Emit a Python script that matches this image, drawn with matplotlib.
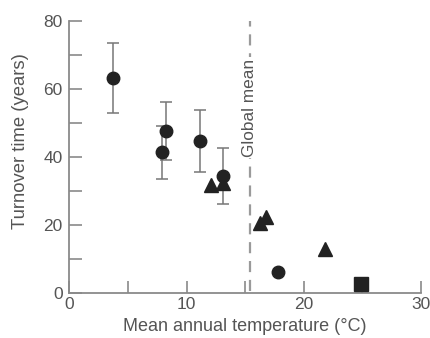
import matplotlib.pyplot as plt
from matplotlib.ticker import MultipleLocator

plt.rcParams['font.family'] = ['Liberation Sans', 'DejaVu Sans']

# circles (with error bars)
circle_x = [3.7, 8.2, 7.9, 11.1, 13.1, 17.8]
circle_y = [63.2, 47.7, 41.4, 44.8, 34.4, 6.1]
circle_err = [10.2, 8.6, 7.8, 9.1, 8.3, 0]

# triangles
tri_x = [12.1, 13.1, 16.3, 16.8, 21.8]
tri_y = [31.8, 32.5, 20.5, 22.4, 12.8]

# square
sq_x = [24.9]
sq_y = [2.6]

global_mean = 15.4

axis_grey = '#8a8a8a'
text_grey = '#555555'
mark = '#222222'

fig = plt.figure(figsize=(4.3, 3.38), dpi=100)
ax = fig.add_axes([0.1616, 0.1331, 0.8174, 0.8048])

ax.errorbar(circle_x[:5], circle_y[:5], yerr=circle_err[:5], fmt='none',
            ecolor='#777777', elinewidth=1.1, capsize=4, capthick=1.1, zorder=2)
ax.plot(circle_x, circle_y, 'o', color=mark, markersize=9, zorder=3)
ax.plot(tri_x, tri_y, '^', color=mark, markersize=10.5, zorder=3)
ax.plot(sq_x, sq_y, 's', color=mark, markersize=10, zorder=3)

ax.plot([global_mean, global_mean], [0.5, 80.5], color='#9a9a9a', lw=1.6,
        dashes=(5, 3.5), zorder=1)
ax.text(global_mean, 54.5, 'Global mean', rotation=90, ha='center', va='center',
        fontsize=12.4, color=text_grey, zorder=2,
        bbox=dict(facecolor='white', edgecolor='none', pad=1))

ax.set_xlim(0, 30)
ax.set_ylim(0, 80)
ax.xaxis.set_major_locator(MultipleLocator(10))
ax.xaxis.set_minor_locator(MultipleLocator(5))
ax.yaxis.set_major_locator(MultipleLocator(20))
ax.yaxis.set_minor_locator(MultipleLocator(10))

for s in ['top', 'right']:
    ax.spines[s].set_visible(False)
for s in ['left', 'bottom']:
    ax.spines[s].set_color(axis_grey)
    ax.spines[s].set_linewidth(1.3)

ax.tick_params(which='both', direction='in', length=9, width=1.2,
               color=axis_grey, labelcolor=text_grey, labelsize=12.5)
ax.tick_params(axis='y', pad=5)
ax.tick_params(axis='x', pad=3)

# reference crops this label at the bottom edge; keep it just inside the image
ax.set_xlabel('Mean annual temperature (\u00b0C)', fontsize=13, color=text_grey, labelpad=4)
ax.set_ylabel('Turnover time (years)', fontsize=13.3, color=text_grey, va='center')
ax.yaxis.set_label_coords(-0.139, 0.557)

fig.savefig('out.png', dpi=100)
